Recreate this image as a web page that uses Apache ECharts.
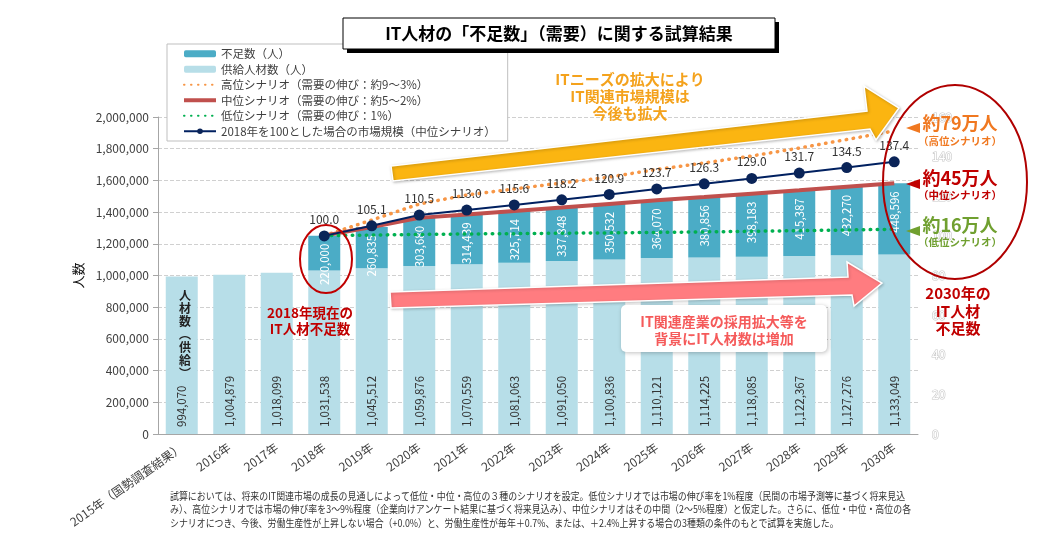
<!DOCTYPE html>
<html>
<head>
<meta charset="utf-8">
<script src="https://cdn.jsdelivr.net/npm/echarts@6/dist/echarts.min.js"></script>
<style>html,body{margin:0;padding:0;background:#fff;}#main{width:1064px;height:550px;}</style>
</head>
<body>
<div id="main"></div>
<script>
const categories = ['2015年（国勢調査結果）','2016年','2017年','2018年','2019年','2020年','2021年','2022年','2023年','2024年','2025年','2026年','2027年','2028年','2029年','2030年'];
const supply = [994070,1004879,1018099,1031538,1045512,1059876,1070559,1081063,1091050,1100836,1110121,1114225,1118085,1122367,1127276,1133049];
const shortage = [null,null,null,220000,260835,303680,314439,325714,337848,350532,364070,380856,398183,415387,432270,448596];
const highScenario = [null,null,null,1251538,1350000,1451000,1508000,1546000,1584000,1621000,1669000,1710000,1754000,1804000,1858000,1912000];
const lowScenario = [null,null,null,1251538,1255000,1259000,1262000,1264000,1267000,1269000,1272000,1275000,1279000,1283000,1287000,1292000];
const marketIndex = [null,null,null,100.0,105.1,110.5,113.0,115.6,118.2,120.9,123.7,126.3,129.0,131.7,134.5,137.4];
const leftTicks = {min:0, max:2000000, interval:200000};
const rightTicks = {min:0, max:160, interval:20};
const midScenario = supply.map((s,i)=> shortage[i]==null ? null : s + shortage[i]);

const FONT = "'Noto Sans CJK JP', 'Noto Sans', sans-serif";
const fmt = v => (v==null ? '' : Number(v).toLocaleString('en-US'));

function txt(x, y, text, o) {
  o = o || {};
  return {
    type:'text', x:x, y:y, z: o.z || 20, scaleX: o.scaleX || 1,
    style:{
      text:text, fill:o.fill||'#333', fontSize:o.size||12, fontWeight:o.weight||'normal',
      fontFamily:FONT, textAlign:o.align||'center', align:o.align||'center',
      textVerticalAlign:'middle', verticalAlign:'middle', lineHeight:o.lh||undefined
    }
  };
}

const chart = echarts.init(document.getElementById('main'), null, {renderer:'canvas'});
const option = {
  animation:false,
  textStyle:{fontFamily:FONT},
  grid:{left:158, right:146, top:117, bottom:116},
  legend:{
    orient:'vertical', left:167, top:44, padding:[2,12,2,15], itemGap:0,
    itemWidth:32, itemHeight:7, backgroundColor:'#fff', borderColor:'#bfbfbf', borderWidth:1,
    textStyle:{fontSize:11.5, color:'#404040', lineHeight:15.5},
    data:[
      {name:'不足数（人）'},
      {name:'供給人材数（人）'},
      {name:'高位シナリオ（需要の伸び：約9～3%）', itemStyle:{opacity:0}},
      {name:'中位シナリオ（需要の伸び：約5～2%）', itemStyle:{opacity:0}, lineStyle:{width:4}},
      {name:'低位シナリオ（需要の伸び：1%）', itemStyle:{opacity:0}},
      {name:'2018年を100とした場合の市場規模（中位シナリオ）'}
    ]
  },
  xAxis:{
    type:'category', data:categories,
    axisLine:{lineStyle:{color:'#a6a6a6'}},
    axisTick:{length:5, lineStyle:{color:'#a6a6a6'}},
    axisLabel:{rotate:35, fontSize:12, color:'#404040', margin:12, interval:0}
  },
  yAxis:[{
    type:'value', min:leftTicks.min, max:leftTicks.max, interval:leftTicks.interval,
    name:'人数', nameLocation:'middle', nameGap:72, nameRotate:90,
    nameTextStyle:{fontSize:13, color:'#111'},
    axisLine:{show:true, lineStyle:{color:'#a6a6a6'}},
    axisTick:{show:true, length:5, lineStyle:{color:'#a6a6a6'}},
    axisLabel:{fontSize:12, color:'#404040', margin:9, formatter:v=>fmt(v)},
    splitLine:{lineStyle:{type:'dashed', color:'#d0d0d0'}}
  },{
    type:'value', min:rightTicks.min, max:rightTicks.max, interval:rightTicks.interval, position:'right',
    axisLine:{show:false}, axisTick:{show:false}, splitLine:{show:false},
    axisLabel:{fontSize:12, color:'#fff', textBorderColor:'#c8c8c8', textBorderWidth:1.2, margin:14}
  }],
  series:[
    {
      name:'供給人材数（人）', type:'bar', stack:'a', data:supply, barWidth:32,
      itemStyle:{color:'#b7dee8'},
      label:{show:true, position:'insideBottom', rotate:90, align:'left', verticalAlign:'middle',
        distance:7, fontSize:11.5, color:'#333', formatter:p=>fmt(p.value)}
    },
    {
      name:'不足数（人）', type:'bar', stack:'a', data:shortage, barWidth:32,
      itemStyle:{color:'#4bacc6'},
      label:{show:true, position:'insideTop', rotate:90, align:'right', verticalAlign:'middle',
        distance:8, fontSize:11.5, color:'#fff', formatter:p=>fmt(p.value)}
    },
    {
      name:'高位シナリオ（需要の伸び：約9～3%）', type:'line', data:highScenario, symbol:'none', z:3,
      itemStyle:{color:'#f79646'},
      lineStyle:{color:'#f79646', width:3.5, type:[0.5,6.5], cap:'round'}
    },
    {
      name:'中位シナリオ（需要の伸び：約5～2%）', type:'line', data:midScenario, symbol:'none', z:3,
      itemStyle:{color:'#c0504d'},
      lineStyle:{color:'#c0504d', width:4}
    },
    {
      name:'低位シナリオ（需要の伸び：1%）', type:'line', data:lowScenario, symbol:'none', z:3,
      itemStyle:{color:'#00b050'},
      lineStyle:{color:'#00b050', width:3.5, type:[0.5,6.5], cap:'round'}
    },
    {
      name:'2018年を100とした場合の市場規模（中位シナリオ）', type:'line', yAxisIndex:1, data:marketIndex,
      symbol:'circle', symbolSize:11, z:4,
      itemStyle:{color:'#0a2458'},
      lineStyle:{color:'#002060', width:2},
      label:{show:true, position:'top', distance:5, fontSize:12, color:'#333', formatter:p=>Number(p.value).toFixed(1)}
    }
  ],
  graphic:{elements:[
    // title box
    {type:'rect', z:30, shape:{x:347, y:22, width:432, height:31}, style:{fill:'#000'}},
    {type:'rect', z:31, shape:{x:343, y:18, width:432, height:31}, style:{fill:'#fff', stroke:'#000', lineWidth:1}},
    txt(559, 34, 'IT人材の「不足数」（需要）に関する試算結果', {size:17, weight:'bold', fill:'#000', z:32}),
    // yellow arrow
    {type:'polygon', z:15, shape:{points:[[391,166],[867,111],[864,86],[899,108],[876,140],[870,129],[393,181]]},
      style:{fill:'#fbb511', stroke:'#fff', lineWidth:1.5, shadowBlur:3, shadowColor:'rgba(0,0,0,0.25)', shadowOffsetX:1, shadowOffsetY:1}},
    txt(630, 96, 'ITニーズの拡大により\nIT関連市場規模は\n今後も拡大', {size:15, weight:'bold', fill:'#f4a21c', lh:17}),
    // pink arrow
    {type:'polygon', z:15, shape:{points:[[390,292],[848,277],[847,262],[882,283],[854,306],[852,295],[391,308]]},
      style:{fill:'#ff7c80', stroke:'#fff', lineWidth:1.5, shadowBlur:3, shadowColor:'rgba(0,0,0,0.2)', shadowOffsetX:1, shadowOffsetY:1}},
    {type:'rect', z:16, shape:{x:621, y:305, width:206, height:47, r:5},
      style:{fill:'#fff', shadowBlur:4, shadowColor:'rgba(0,0,0,0.25)', shadowOffsetX:1, shadowOffsetY:1}},
    txt(724, 330, 'IT関連産業の採用拡大等を\n背景にIT人材数は増加', {size:14, weight:'bold', fill:'#f55a5a', lh:17, z:17}),
    // 2018 ellipse + text
    {type:'ellipse', z:18, shape:{cx:326, cy:259, rx:26, ry:34}, style:{fill:'none', stroke:'#c00000', lineWidth:2}},
    txt(310, 321, '2018年現在の\nIT人材不足数', {size:13.5, weight:'bold', fill:'#c00000', lh:16}),
    // 2015 vertical text
    txt(185, 334, '人\n材\n数\n︵\n供\n給\n︶', {size:12, weight:'bold', fill:'#222', lh:13}),
    // right ellipse
    {type:'ellipse', z:18, shape:{cx:955, cy:182, rx:72, ry:97}, style:{fill:'none', stroke:'#b00000', lineWidth:2}},
    {type:'polygon', z:19, shape:{points:[[906,128],[920,123],[920,133]]}, style:{fill:'#f07820'}},
    {type:'polygon', z:19, shape:{points:[[906,184],[920,179],[920,189]]}, style:{fill:'#c00000'}},
    {type:'polygon', z:19, shape:{points:[[906,231],[920,226],[920,236]]}, style:{fill:'#70a030'}},
    txt(960, 123, '約79万人', {size:18, weight:'bold', fill:'#f07820'}),
    txt(960, 141, '（高位シナリオ）', {size:10.5, weight:'bold', fill:'#f07820'}),
    txt(960, 178, '約45万人', {size:18, weight:'bold', fill:'#c00000'}),
    txt(960, 195, '（中位シナリオ）', {size:10.5, weight:'bold', fill:'#c00000'}),
    txt(960, 225, '約16万人', {size:18, weight:'bold', fill:'#70a030'}),
    txt(960, 242, '（低位シナリオ）', {size:10.5, weight:'bold', fill:'#70a030'}),
    txt(958, 311, '2030年の\nIT人材\n不足数', {size:15, weight:'bold', fill:'#c00000', lh:17.5}),
    // footnote
    txt(170, 496, '試算においては、将来のIT関連市場の成長の見通しによって低位・中位・高位の３種のシナリオを設定。低位シナリオでは市場の伸び率を1%程度（民間の市場予測等に基づく将来見込', {size:10.5, align:'left', fill:'#333', scaleX:0.85}),
    txt(170, 509.5, 'み）、高位シナリオでは市場の伸び率を3～9%程度（企業向けアンケート結果に基づく将来見込み）、中位シナリオはその中間（2～5%程度）と仮定した。さらに、低位・中位・高位の各', {size:10.5, align:'left', fill:'#333', scaleX:0.85}),
    txt(170, 523, 'シナリオにつき、今後、労働生産性が上昇しない場合（+0.0%）と、労働生産性が毎年＋0.7%、または、＋2.4%上昇する場合の3種類の条件のもとで試算を実施した。', {size:10.5, align:'left', fill:'#333', scaleX:0.85})
  ]}
};
chart.setOption(option);
</script>
</body>
</html>
